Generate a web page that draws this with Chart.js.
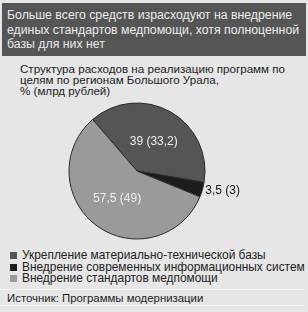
<!DOCTYPE html>
<html>
<head>
<meta charset="utf-8">
<script src="https://cdn.jsdelivr.net/npm/chart.js@4"></script>
<style>
  body { margin: 0; width: 308px; height: 312px; background: #e6e6e6; font-family: "Liberation Sans", Arial, sans-serif; position: relative; overflow: hidden; }
  .head { position: absolute; left: 2px; top: 3px; width: 299px; height: 48px; padding: 5px 0 0 5px; background: #555; color: #ececec; font-size: 12.3px; line-height: 14.5px; white-space: nowrap; }
  .sub { position: absolute; left: 20px; top: 63px; font-size: 11.6px; line-height: 11px; color: #222; }
  #wrap { position: absolute; left: 0; top: 99px; width: 308px; height: 144px; }
  .legend { position: absolute; left: 10px; top: 250px; font-size: 11.9px; line-height: 11.5px; color: #222; white-space: nowrap; }
  .legend span { display: inline-block; width: 7px; height: 7px; margin-right: 5px; }
  .src { position: absolute; left: 0; top: 289px; width: 305px; height: 17px; border-top: 1px solid #f4f4f4; border-bottom: 1px solid #f4f4f4; font-size: 11.4px; line-height: 17px; color: #222; padding-left: 7px; box-sizing: border-box; }
</style>
</head>
<body>
<div class="head">Больше всего средств израсходуют на внедрение<br>единых стандартов медпомощи, хотя полноценной<br>базы для них нет</div>
<div class="sub">Структура расходов на реализацию программ по<br>целям по регионам Большого Урала,<br>% (млрд рублей)</div>
<div id="wrap"><canvas id="pie"></canvas></div>
<div class="legend" id="legend"></div>
<div class="src">Источник: Программы модернизации</div>
<script>
const categories = ['Укрепление материально-технической базы', 'Внедрение современных информационных систем', 'Внедрение стандартов медпомощи'];
const shares = [39, 3.5, 57.5];
const amounts = [33.2, 3, 49];
const colors = ['#555555', '#1c1c1c', '#9a9a9a'];

const fmt = v => String(v).replace('.', ',');

// legend
const legend = document.getElementById('legend');
categories.forEach((c, i) => {
  const row = document.createElement('div');
  row.innerHTML = '<span style="background:' + colors[i] + '"></span>' + c;
  legend.appendChild(row);
});

const sliceLabels = {
  id: 'sliceLabels',
  afterDatasetsDraw(chart) {
    const ctx = chart.ctx;
    const meta = chart.getDatasetMeta(0);
    ctx.save();
    ctx.font = '12px "Liberation Sans", Arial, sans-serif';
    ctx.textBaseline = 'middle';
    meta.data.forEach((arc, i) => {
      const mid = (arc.startAngle + arc.endAngle) / 2;
      const text = fmt(shares[i]) + ' (' + fmt(amounts[i]) + ')';
      if (shares[i] < 10) {
        const r = arc.outerRadius + 3;
        ctx.fillStyle = '#1a1a1a';
        ctx.textAlign = 'left';
        ctx.fillText(text, arc.x + Math.cos(mid) * r, arc.y + Math.sin(mid) * r);
      } else {
        const r = arc.outerRadius * 0.5;
        ctx.fillStyle = '#eeeeee';
        ctx.textAlign = 'center';
        ctx.fillText(text, arc.x + Math.cos(mid) * r, arc.y + Math.sin(mid) * r);
      }
    });
    ctx.restore();
  }
};

new Chart(document.getElementById('pie'), {
  type: 'pie',
  data: {
    labels: categories,
    datasets: [{
      data: shares,
      backgroundColor: colors,
      borderColor: '#2a2a2a',
      borderWidth: 1
    }]
  },
  options: {
    responsive: true,
    maintainAspectRatio: false,
    animation: false,
    rotation: -40.7,
    radius: 68,
    layout: { padding: { right: 34 } },
    plugins: {
      legend: { display: false },
      tooltip: { enabled: false }
    }
  },
  plugins: [sliceLabels]
});
</script>
</body>
</html>
